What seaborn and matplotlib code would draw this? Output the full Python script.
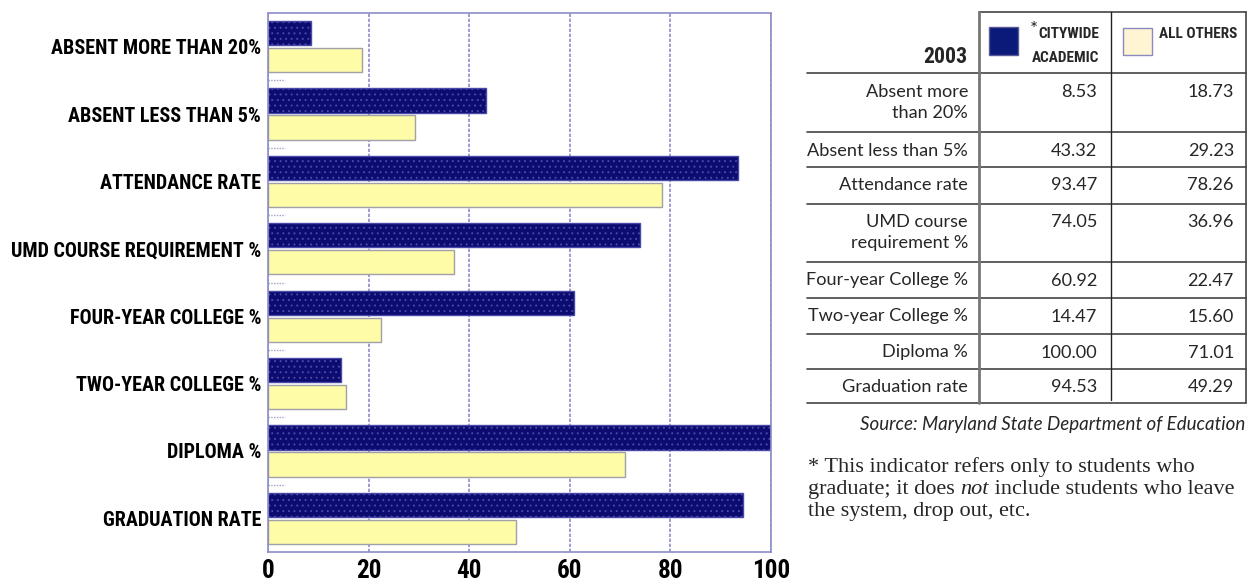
import matplotlib
matplotlib.use("Agg")
import matplotlib.pyplot as plt
import pandas as pd
import seaborn as sns
from matplotlib import font_manager as fm
from matplotlib.lines import Line2D
from matplotlib.patches import Rectangle

# ---- data -------------------------------------------------------------
indicators = [
    "ABSENT MORE THAN 20%",
    "ABSENT LESS THAN 5%",
    "ATTENDANCE RATE",
    "UMD COURSE REQUIREMENT %",
    "FOUR-YEAR COLLEGE %",
    "TWO-YEAR COLLEGE %",
    "DIPLOMA %",
    "GRADUATION RATE",
]
table_labels = [
    ["Absent more", "than 20%"],
    ["Absent less than 5%"],
    ["Attendance rate"],
    ["UMD course", "requirement %"],
    ["Four-year College %"],
    ["Two-year College %"],
    ["Diploma %"],
    ["Graduation rate"],
]
groups = ["CITYWIDE ACADEMIC", "ALL OTHERS"]
citywide = [8.53, 43.32, 93.47, 74.05, 60.92, 14.47, 100.00, 94.53]
others = [18.73, 29.23, 78.26, 36.96, 22.47, 15.60, 71.01, 49.29]
x_ticks = [0, 20, 40, 60, 80, 100]
year = "2003"
source = "Source: Maryland State Department of Education"
footnote = ["* This indicator refers only to students who",
            "graduate; it does ", "not", " include students who leave",
            "the system, drop out, etc."]

NAVY = "#0c0c70"
SWATCH_NAVY = "#0b1a78"
YELLOW = "#fffca8"
CREAM = "#fff5d3"
GRID = "#8c8cc8"

df = pd.DataFrame({
    "indicator": indicators * 2,
    "group": [groups[0]] * len(indicators) + [groups[1]] * len(indicators),
    "value": citywide + others,
})

# ---- fonts ------------------------------------------------------------
installed = {f.name for f in fm.fontManager.ttflist}
NARROW = next((n for n in ["Liberation Sans Narrow", "Roboto Condensed",
                           "DejaVu Sans Condensed", "Open Sans Condensed",
                           "Noto Sans Condensed", "Lato"] if n in installed),
              "DejaVu Sans")
SANS = "Lato" if "Lato" in installed else "DejaVu Sans"
SERIF = "Liberation Serif" if "Liberation Serif" in installed else "DejaVu Serif"

# ---- figure -----------------------------------------------------------
W, H = 1248, 586
sns.set_style("white")
plt.rcParams["font.family"] = [SANS, "DejaVu Sans"]
plt.rcParams["hatch.linewidth"] = 0.7
fig = plt.figure(figsize=(W / 100, H / 100), dpi=100)
renderer = fig.canvas.get_renderer()


def fx(x):
    return x / W


def fy(y):
    return 1 - y / H


def fit_size(txt, width_px, **kw):
    """Font size at which txt spans width_px pixels."""
    t = fig.text(0, 0, txt, fontsize=12, **kw)
    w = t.get_window_extent(renderer).width
    t.remove()
    return 12 * width_px / w


bold_narrow = dict(family=NARROW, fontweight="bold")
label_size = fit_size("UMD COURSE REQUIREMENT %", 251, **bold_narrow)
tick_size = fit_size("100", 38, **bold_narrow)
head_size = fit_size(groups[1], 78, **bold_narrow)
year_size = fit_size(year, 44, **bold_narrow)
body_size = fit_size("Absent less than 5%", 160, family=SANS)
src_size = fit_size(source, 385, family=SANS, style="italic")
foot_size = fit_size(footnote[0], 387, family=SERIF)

ax = fig.add_axes([fx(268), fy(552), fx(771) - fx(268), fy(13) - fy(552)])
sns.barplot(
    data=df, y="indicator", x="value", hue="group",
    order=indicators, hue_order=groups, palette=[NAVY, YELLOW],
    saturation=1, orient="h", width=0.8, gap=0.1, linewidth=1.0,
    edgecolor="#8a8aa8", legend=False, ax=ax,
)
for bar in ax.containers[0]:
    bar.set_hatch("...")
    bar.set_edgecolor("#4848a8")
for bar in ax.containers[1]:
    bar.set_edgecolor("#a0a0a8")

ax.set_xlim(0, 100)
ax.set_ylim(len(indicators) - 0.5, -0.5)
ax.set_xticks(x_ticks)
ax.set_xticklabels([str(t) for t in x_ticks], fontsize=tick_size,
                   **bold_narrow)
ax.set_yticks(range(len(indicators)))
ax.set_yticklabels(indicators, fontsize=label_size, **bold_narrow)
ax.tick_params(axis="x", length=0, pad=5, colors="black")
ax.tick_params(axis="y", length=0, pad=5, colors="black")
ax.set_xlabel("")
ax.set_ylabel("")
ax.set_axisbelow(True)
ax.grid(axis="x", color=GRID, linestyle=(0, (2, 1)), linewidth=1.2)
ax.grid(axis="y", visible=False)
for sp in ax.spines.values():
    sp.set_color(GRID)
    sp.set_linestyle((0, (2, 1)))
    sp.set_linewidth(1.2)

# short separators between indicator groups
for i in range(len(indicators) - 1):
    ax.hlines(i + 0.5, 0, 3.3, color="#a0a0d0", linewidth=1.0,
              linestyle=(0, (1, 1)))

# ---- table ------------------------------------------------------------
def hline(x0, x1, y, color="#444444", lw=1.2):
    fig.add_artist(Line2D([fx(x0), fx(x1)], [fy(y), fy(y)],
                          transform=fig.transFigure, color=color, lw=lw))


def vline(x, y0, y1, color="#444444", lw=1.2):
    fig.add_artist(Line2D([fx(x), fx(x)], [fy(y0), fy(y1)],
                          transform=fig.transFigure, color=color, lw=lw))


row_lines = [73, 132, 167, 204, 262, 298, 334, 369, 403]
hline(979, 1246, 12)
for y in row_lines:
    hline(807, 1246, y)
vline(979, 12, 403, color="#777777", lw=2.0)
vline(1111, 12, 400, color="#222222", lw=1.0)
vline(1246, 12, 403)

# header
fig.text(fx(967), fy(63), year, ha="right", va="baseline",
         fontsize=year_size, **bold_narrow)
fig.add_artist(Rectangle((fx(989), fy(55)), fx(1018) - fx(989), fy(27) - fy(55),
                         transform=fig.transFigure, facecolor=SWATCH_NAVY,
                         edgecolor="#5a5a9a", lw=1))
fig.add_artist(Rectangle((fx(1123), fy(55)), fx(1152) - fx(1123), fy(28) - fy(55),
                         transform=fig.transFigure, facecolor=CREAM,
                         edgecolor="#8a8ac0", lw=1))
fig.text(fx(1099), fy(38), groups[0].split()[0], ha="right", va="baseline",
         fontsize=head_size, **bold_narrow)
fig.text(fx(1099), fy(62), groups[0].split()[1], ha="right", va="baseline",
         fontsize=head_size, **bold_narrow)
fig.text(fx(1237), fy(38), groups[1], ha="right", va="baseline",
         fontsize=head_size, **bold_narrow)
# superscript asterisk before the first header word
hw = fig.texts[-3].get_window_extent(renderer)
fig.text(hw.x0 / W, fy(35), "*", ha="right", va="baseline",
         fontsize=head_size * 1.25, family=SANS)

# body rows
for i, lines in enumerate(table_labels):
    base = row_lines[i] + 23.5
    for k, txt in enumerate(lines):
        fig.text(fx(968), fy(base + 21 * k), txt, ha="right", va="baseline",
                 fontsize=body_size, family=SANS)
    fig.text(fx(1097), fy(base), f"{citywide[i]:.2f}", ha="right",
             va="baseline", fontsize=body_size, family=SANS)
    fig.text(fx(1234), fy(base), f"{others[i]:.2f}", ha="right",
             va="baseline", fontsize=body_size, family=SANS)

fig.text(fx(1245), fy(430), source, ha="right", va="baseline",
         fontsize=src_size, style="italic", family=SANS)

# footnote
foot = dict(va="baseline", fontsize=foot_size, family=SERIF, ha="left")
fig.text(fx(808), fy(472), footnote[0], **foot)
t = fig.text(fx(808), fy(494), footnote[1], **foot)
x = t.get_window_extent(renderer).x1
t = fig.text(x / W, fy(494), footnote[2], style="italic", **foot)
x = t.get_window_extent(renderer).x1
fig.text(x / W, fy(494), footnote[3], **foot)
fig.text(fx(808), fy(516), footnote[4], **foot)

fig.savefig("out.png", dpi=100)
